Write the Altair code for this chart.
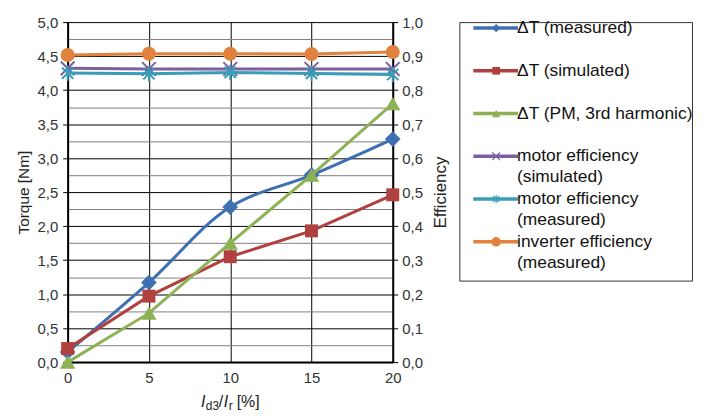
import altair as alt
import pandas as pd

x_vals = [0, 5, 10, 15, 20]
dt_measured = [0.15, 1.17, 2.28, 2.75, 3.28]
dt_simulated = [0.20, 0.97, 1.55, 1.93, 2.46]
dt_pm3 = [0.00, 0.72, 1.75, 2.75, 3.80]
eff_motor_sim = [0.864, 0.862, 0.862, 0.862, 0.862]
eff_motor_meas = [0.850, 0.848, 0.852, 0.849, 0.846]
eff_inverter = [0.903, 0.907, 0.907, 0.906, 0.912]

legend_names = [
    "ΔT (measured)",
    "ΔT (simulated)",
    "ΔT (PM, 3rd harmonic)",
    "motor efficiency\n(simulated)",
    "motor efficiency\n(measured)",
    "inverter efficiency\n(measured)",
]
colors = ["#3E6FB0", "#B0413E", "#8DB255", "#7D5FA0", "#3A9DB8", "#E0823D"]

XSHAPE = "M-1,-1L1,1M-1,1L1,-1"
STAR = "M-0.8,-0.8L0.8,0.8M-0.8,0.8L0.8,-0.8M0,-1.1L0,1.1"
shapes = ["diamond", "square", "triangle-up", XSHAPE, STAR, "circle"]
filled = [True, True, True, False, False, True]
sizes = [250, 170, 240, 190, 200, 200]
leg_sizes = [70, 60, 70, 60, 60, 90]
interp = ["catmull-rom", "linear", "linear", "linear", "linear", "linear"]

FONT = "Liberation Sans"
W, H = 327, 342

comma = "replace(format(datum.value, '.1f'), '.', ',')"

y_left_vals = [i * 0.25 for i in range(21)]
y_left_axis = alt.Axis(
    values=y_left_vals,
    labelExpr=f"(datum.value * 2) % 1 == 0 ? {comma} : ''",
    title="Torque [Nm]",
    titleFontSize=15.5,
    titleFont=FONT,
    titleFontWeight="normal",
    titleColor="#222",
    titlePadding=6,
    labelFont=FONT,
    labelFontSize=15,
    labelColor="#333",
    labelPadding=5,
    grid=True,
    gridColor={"condition": {"test": "(datum.value * 2) % 1 != 0", "value": "#808080"}, "value": "#000000"},
    gridWidth=1,
    tickColor={"condition": {"test": "(datum.value * 2) % 1 != 0", "value": "transparent"}, "value": "#000000"},
    tickSize=5,
    domainColor="#000",
    domainWidth=2,
)
y_right_axis = alt.Axis(
    orient="right",
    values=[i / 10 for i in range(11)],
    labelExpr=comma,
    title="Efficiency",
    titleAngle=270,
    titleBaseline="top",
    titleFontSize=17,
    titleFont=FONT,
    titleFontWeight="normal",
    titleColor="#222",
    titlePadding=10,
    labelFont=FONT,
    labelFontSize=15,
    labelColor="#333",
    labelPadding=4,
    grid=False,
    tickColor="#000",
    tickSize=5,
    domainColor="#000",
    domainWidth=2,
)
x_axis = alt.Axis(
    values=x_vals,
    title=None,
    labelFont=FONT,
    labelFontSize=15,
    labelColor="#333",
    labelPadding=9,
    labelFlush=False,
    grid=True,
    gridColor="#000",
    gridWidth=1,
    tickSize=0,
    domainColor="#000",
    domainWidth=2,
)


def series_layers(idx, values, domain, axis):
    df = pd.DataFrame({"x": x_vals, "v": values})
    base = alt.Chart(df).encode(
        x=alt.X("x:Q", scale=alt.Scale(domain=[0, 20], nice=False), axis=x_axis),
        y=alt.Y("v:Q", scale=alt.Scale(domain=domain, nice=False), axis=axis),
    )
    line = base.mark_line(color=colors[idx], strokeWidth=3, interpolate=interp[idx])
    if filled[idx]:
        pt = base.mark_point(shape=shapes[idx], filled=True, color=colors[idx],
                             size=sizes[idx], opacity=1)
    else:
        pt = base.mark_point(shape=shapes[idx], filled=False, color=colors[idx],
                             size=sizes[idx], strokeWidth=2, opacity=1)
    return [line, pt]


torque_layers = []
for i, vals in enumerate([dt_measured, dt_simulated, dt_pm3]):
    torque_layers += series_layers(i, vals, [0, 5], y_left_axis)
eff_layers = []
for j, vals in enumerate([eff_motor_sim, eff_motor_meas, eff_inverter]):
    eff_layers += series_layers(j + 3, vals, [0, 1], y_right_axis)

# x-axis title parts: I_d3 / I_r [%]
title_parts = pd.DataFrame({
    "t": ["I", "d3", "/", "I", "r", "[%]"],
    "px": [134, 139, 152, 157, 162, 170],
    "size": [16, 12, 16, 16, 12, 16],
    "dy": [0, 3, 0, 0, 3, 0],
    "style": ["italic", "normal", "normal", "italic", "normal", "normal"],
})
title_layers = []
for _, r in title_parts.iterrows():
    title_layers.append(
        alt.Chart(pd.DataFrame({"t": [r["t"]]})).mark_text(
            align="left", baseline="alphabetic", font=FONT, fontSize=int(r["size"]),
            fontStyle=r["style"], color="#222", dy=int(r["dy"]),
        ).encode(text="t:N", x=alt.value(int(r["px"])), y=alt.value(H + 45))
    )

main = alt.layer(
    alt.layer(*torque_layers, *title_layers),
    alt.layer(*eff_layers),
).resolve_scale(y="independent").properties(
    width=W, height=H, view=alt.ViewBackground(stroke=None))

# manual legend
leg_df = pd.DataFrame({"name": legend_names, "i": list(range(6))})
LW, LH = 234, 260
OFF = 6
ysc = alt.Scale(domain=[-OFF / 43, (LH - OFF) / 43], reverse=True, nice=False, zero=False)
leg_layers = []
for i in range(6):
    d = leg_df.iloc[[i]]
    b = alt.Chart(d).encode(y=alt.Y("i:Q", scale=ysc, axis=None))
    leg_layers.append(b.mark_rule(color=colors[i], strokeWidth=3.5).encode(
        x=alt.value(14), x2=alt.value(59)))
    if filled[i]:
        leg_layers.append(b.mark_point(shape=shapes[i], filled=True, color=colors[i],
                                       size=leg_sizes[i], opacity=1).encode(x=alt.value(37)))
    else:
        leg_layers.append(b.mark_point(shape=shapes[i], filled=False, color=colors[i],
                                       size=leg_sizes[i], strokeWidth=1.2, opacity=1).encode(x=alt.value(37)))
    leg_layers.append(b.mark_text(align="left", baseline="top", dy=-9, font=FONT, fontSize=17.5,
                                  color="#111", lineBreak="\n", lineHeight=21).encode(
        x=alt.value(58), text="name:N"))

legend = alt.layer(*leg_layers).properties(
    width=LW, height=LH, view=alt.ViewBackground(stroke="#333", strokeWidth=1))

chart = alt.hconcat(main, legend, spacing=10).properties(
    padding={"left": 8, "top": 6, "right": 0, "bottom": 0})

chart.save("out.html", embed_options={"renderer": "svg", "actions": False})
